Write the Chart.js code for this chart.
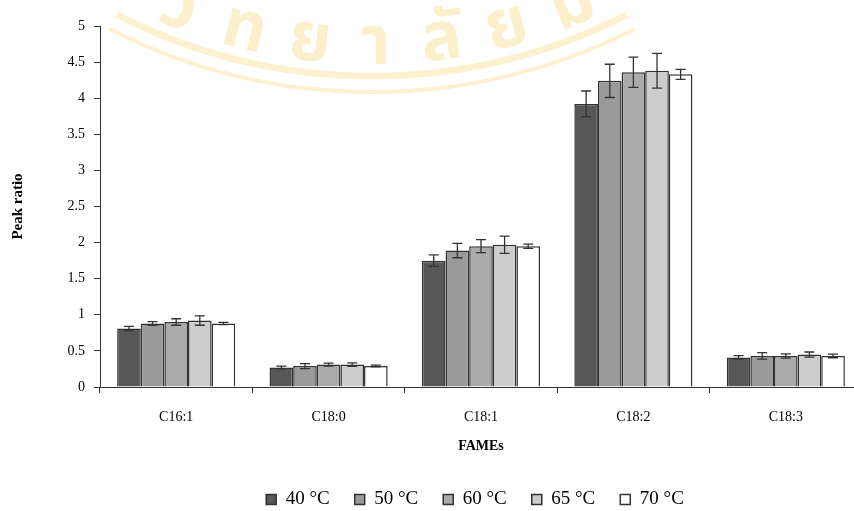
<!DOCTYPE html>
<html>
<head>
<meta charset="utf-8">
<script src="https://cdn.jsdelivr.net/npm/chart.js@4.4.1/dist/chart.umd.min.js"></script>
<style>
  html, body { margin: 0; padding: 0; background: #fff; overflow: hidden; }
  #wrap { position: relative; width: 854px; height: 511px; overflow: hidden; }
  canvas { display: block; }
</style>
</head>
<body>
<div id="wrap"><canvas id="chart" width="880" height="519"></canvas></div>
<script>
// Fatty acid methyl esters and the drying temperatures compared
const categories = ['C16:1', 'C18:0', 'C18:1', 'C18:2', 'C18:3'];
const seriesLabels = ['40 °C', '50 °C', '60 °C', '65 °C', '70 °C'];

// Mean peak ratios per temperature
const t40 = [0.81, 0.27, 1.75, 3.92, 0.41];
const t50 = [0.88, 0.29, 1.89, 4.24, 0.43];
const t60 = [0.90, 0.31, 1.95, 4.36, 0.43];
const t65 = [0.92, 0.31, 1.97, 4.38, 0.45];
const t70 = [0.88, 0.29, 1.95, 4.33, 0.43];

// Standard deviations (error bars)
const e40 = [0.030, 0.020, 0.080, 0.180, 0.025];
const e50 = [0.025, 0.035, 0.100, 0.230, 0.045];
const e60 = [0.045, 0.020, 0.090, 0.210, 0.030];
const e65 = [0.065, 0.025, 0.120, 0.240, 0.035];
const e70 = [0.015, 0.012, 0.030, 0.070, 0.025];

// Seal lettering printed faintly behind the plot
const sealClusters = ['วิ', 'ท', 'ย', 'า', 'ลั', 'ย', 'ม'];

const seriesValues = [t40, t50, t60, t65, t70];
const seriesErrors = [e40, e50, e60, e65, e70];
const fills = ['#575757', '#9a9a9a', '#ababab', '#cdcdcd', '#ffffff'];

const serif = "'Liberation Serif', 'Times New Roman', serif";

// Pale seal arc with lettering, drawn before everything else
const seal = {
  id: 'seal',
  beforeDraw(chart) {
    const { ctx } = chart;
    const cx = 372, cy = -486, R = 556;
    ctx.save();
    ctx.strokeStyle = 'rgba(248, 214, 120, 0.35)';
    ctx.lineWidth = 7;
    ctx.beginPath(); ctx.arc(cx, cy, R + 6, 0.35 * Math.PI, 0.65 * Math.PI); ctx.stroke();
    ctx.lineWidth = 4;
    ctx.beginPath(); ctx.arc(cx, cy, R + 22, 0.35 * Math.PI, 0.65 * Math.PI); ctx.stroke();
    ctx.fillStyle = 'rgba(248, 214, 120, 0.38)';
    ctx.font = "bold 68px 'Noto Sans Thai', 'Noto Serif Thai', 'Loma', 'Garuda', serif";
    ctx.textAlign = 'center';
    ctx.textBaseline = 'alphabetic';
    const step = 68, x0 = 172;
    sealClusters.forEach((ch, i) => {
      const x = x0 + i * step;
      const a = Math.asin((x - cx) / (R - 6));
      const px = cx + (R - 6) * Math.sin(a);
      const py = cy + (R - 6) * Math.cos(a);
      ctx.save();
      ctx.translate(px, py);
      ctx.rotate(-a);
      ctx.fillText(ch, 0, 0);
      ctx.restore();
    });
    ctx.restore();
  }
};

// Draws the ± error bars with caps on top of every bar
const errorBars = {
  id: 'errorBars',
  afterDatasetsDraw(chart) {
    const { ctx, scales: { y } } = chart;
    ctx.save();
    ctx.strokeStyle = '#333';
    ctx.lineWidth = 1.3;
    chart.data.datasets.forEach((ds, i) => {
      const meta = chart.getDatasetMeta(i);
      meta.data.forEach((bar, j) => {
        const v = ds.data[j], e = ds.errors[j];
        const yHi = y.getPixelForValue(v + e);
        const yLo = y.getPixelForValue(v - e);
        const x = bar.x, cap = 5;
        ctx.beginPath();
        ctx.moveTo(x, yHi); ctx.lineTo(x, yLo);
        ctx.moveTo(x - cap, yHi); ctx.lineTo(x + cap, yHi);
        ctx.moveTo(x - cap, yLo); ctx.lineTo(x + cap, yLo);
        ctx.stroke();
      });
    });
    ctx.restore();
  }
};

// Nudges the legend row to the right of the canvas centre
const legendShift = {
  id: 'legendShift',
  afterLayout(chart) {
    const lg = chart.legend;
    if (lg) { lg.left += 44; lg.right += 44; }
  }
};

new Chart(document.getElementById('chart'), {
  type: 'bar',
  data: {
    labels: categories,
    datasets: seriesLabels.map((label, i) => ({
      label,
      data: seriesValues[i],
      errors: seriesErrors[i],
      backgroundColor: fills[i],
      borderColor: '#333333',
      borderWidth: 1.5,
      categoryPercentage: 0.775,
      barPercentage: 1.0
    }))
  },
  options: {
    responsive: false,
    animation: false,
    devicePixelRatio: 1,
    layout: { padding: { left: 0, right: 18, top: 26, bottom: 0 } },
    plugins: {
      tooltip: { enabled: false },
      legend: {
        position: 'bottom',
        labels: {
          boxWidth: 10,
          boxHeight: 10,
          padding: 25,
          color: '#000',
          font: { family: serif, size: 19 }
        }
      }
    },
    scales: {
      x: {
        afterFit(scale) { scale.height = 78; },
        border: { display: true, color: '#333', width: 1 },
        grid: { drawOnChartArea: false, drawTicks: true, tickLength: 6, color: '#333', offset: true },
        ticks: { color: '#000', padding: 16, maxRotation: 0, font: { family: serif, size: 14 } },
        title: {
          display: true,
          text: 'FAMEs',
          color: '#000',
          font: { family: serif, size: 14, weight: 'bold' },
          padding: { top: 0, bottom: 10 }
        }
      },
      y: {
        min: 0,
        max: 5,
        afterFit(scale) { scale.width = 100; },
        border: { display: true, color: '#333', width: 1 },
        grid: { drawOnChartArea: false, drawTicks: true, tickLength: 6, color: '#333' },
        ticks: {
          stepSize: 0.5,
          color: '#000',
          padding: 9,
          font: { family: serif, size: 14 },
          callback: (v) => String(v)
        },
        title: {
          display: true,
          text: 'Peak ratio',
          color: '#000',
          font: { family: serif, size: 15, weight: 'bold' },
          padding: { top: 9, bottom: 0 }
        }
      }
    }
  },
  plugins: [seal, errorBars, legendShift]
});
</script>
</body>
</html>
